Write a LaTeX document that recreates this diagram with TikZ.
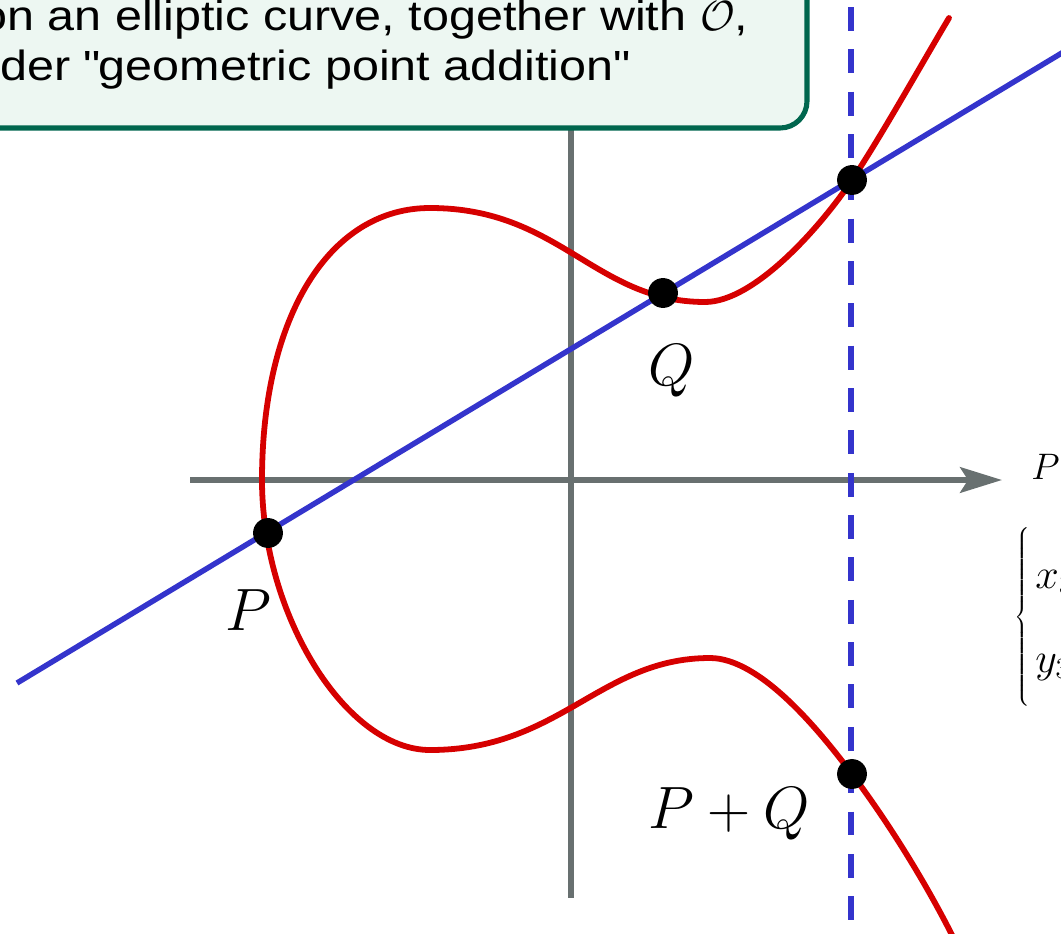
\RequirePackage{fix-cm}
\documentclass[tikz,border=0pt]{standalone}
\usepackage{fontspec}
\setmainfont{Liberation Sans}
\newfontfamily\boxfont{Liberation Sans}[FakeStretch=1.15]
\usetikzlibrary{arrows.meta}
\definecolor{curvered}{RGB}{214,0,0}
\definecolor{lineblue}{RGB}{52,52,204}
\definecolor{axisgray}{RGB}{104,112,112}
\definecolor{boxfill}{RGB}{237,247,242}
\definecolor{boxdraw}{RGB}{0,102,78}
\tikzset{
  axisline/.style={draw=axisgray, line width=3.4pt},
  secant/.style={draw=lineblue, line width=3.1pt},
  vdash/.style={draw=lineblue, line width=3.4pt, dash pattern=on 13.6pt off 10.5pt},
  ecurve/.style={draw=curvered, line width=3.3pt, line cap=round},
  dot/.style={circle, fill=black, inner sep=0pt, minimum size=17pt},
  infobox/.style={draw=boxdraw, fill=boxfill, line width=2.9pt, rounded corners=15.3pt},
  boxtext/.style={inner sep=0pt, font=\boxfont\fontsize{24}{28}\selectfont},
  biglbl/.style={inner sep=0pt, font=\fontsize{34}{40}\selectfont},
  smlbl/.style={inner sep=0pt, font=\fontsize{21}{24}\selectfont},
  midlbl/.style={inner sep=0pt, font=\fontsize{24}{28}\selectfont}
}
\begin{document}
\begin{tikzpicture}[x=0.02cm, y=-0.02cm]
\useasboundingbox (0,0) rectangle (1061,933);
\clip (0,0) rectangle (1061,933);
% axes
\coordinate (xs) at (190,480);
\coordinate (xe) at (1002,480);
\coordinate (ys) at (571,100);
\coordinate (ye) at (571,898);
\draw[axisline] (ys) -- (ye);
\draw[axisline, -{Stealth[length=23.8pt, width=14.5pt, inset=4.5pt]}] (xs) -- (xe);
% elliptic curve key points
\coordinate (cL) at (262,480);
\coordinate (cUmax) at (430,208);
\coordinate (cUmin) at (705,302);
\coordinate (cR) at (852,180);
\coordinate (cTop) at (949,18);
\coordinate (cLmin) at (430,750);
\coordinate (cLmax) at (710,658);
\coordinate (cPQ) at (852,774);
\coordinate (cBot) at (957,945);
\draw[ecurve] (cBot) .. controls (925,880) and (885,818) .. (cPQ)
  .. controls (819,730) and (760,658) .. (cLmax)
  .. controls (600,658) and (560,750) .. (cLmin)
  .. controls (346,750) and (262,615) .. (cL)
  .. controls (262,317) and (329,208) .. (cUmax)
  .. controls (560,208) and (595,302) .. (cUmin)
  .. controls (755,302) and (822,225) .. (cR)
  .. controls (882,135) and (925,58) .. (cTop);
% secant line and vertical dashed line
\coordinate (L1) at (17,683);
\coordinate (L2) at (1080,42);
\draw[secant] (L1) -- (L2);
\coordinate (V1) at (851,7);
\coordinate (V2) at (851,960);
\draw[vdash] (V1) -- (V2);
% points
\node[dot] (P) at (268,533) {};
\node[dot] (Q) at (663,293) {};
\node[dot] (R) at (852,180) {};
\node[dot] (PQ) at (852,774) {};
% labels
\node[biglbl, anchor=base west] (Plab) at (225,630) {$P$};
\node[biglbl, anchor=base west] (Qlab) at (648,385) {$Q$};
\node[biglbl, anchor=base west] (PQlab) at (648,828) {$P+Q$};
% info box
\draw[infobox] (-60,-60) rectangle (807,128);
\node[boxtext, anchor=base west] (t1) at (-20,31) {on an elliptic curve, together with $\mathcal{O}$,};
\node[boxtext, anchor=base west] (t2) at (0,80) {der \textquotedbl geometric point addition\textquotedbl};
% right edge
\node[smlbl, anchor=base west] (Pr) at (1031,479) {$P$};
\node[inner sep=0pt, anchor=west] (br) at (1014,618) {$\left\{\rule[-50pt]{0pt}{104pt}\right.$};
\node[midlbl, anchor=base west] (x3) at (1035,588) {$x_3$};
\node[midlbl, anchor=base west] (y3) at (1035,672) {$y_3$};
\end{tikzpicture}
\end{document}
